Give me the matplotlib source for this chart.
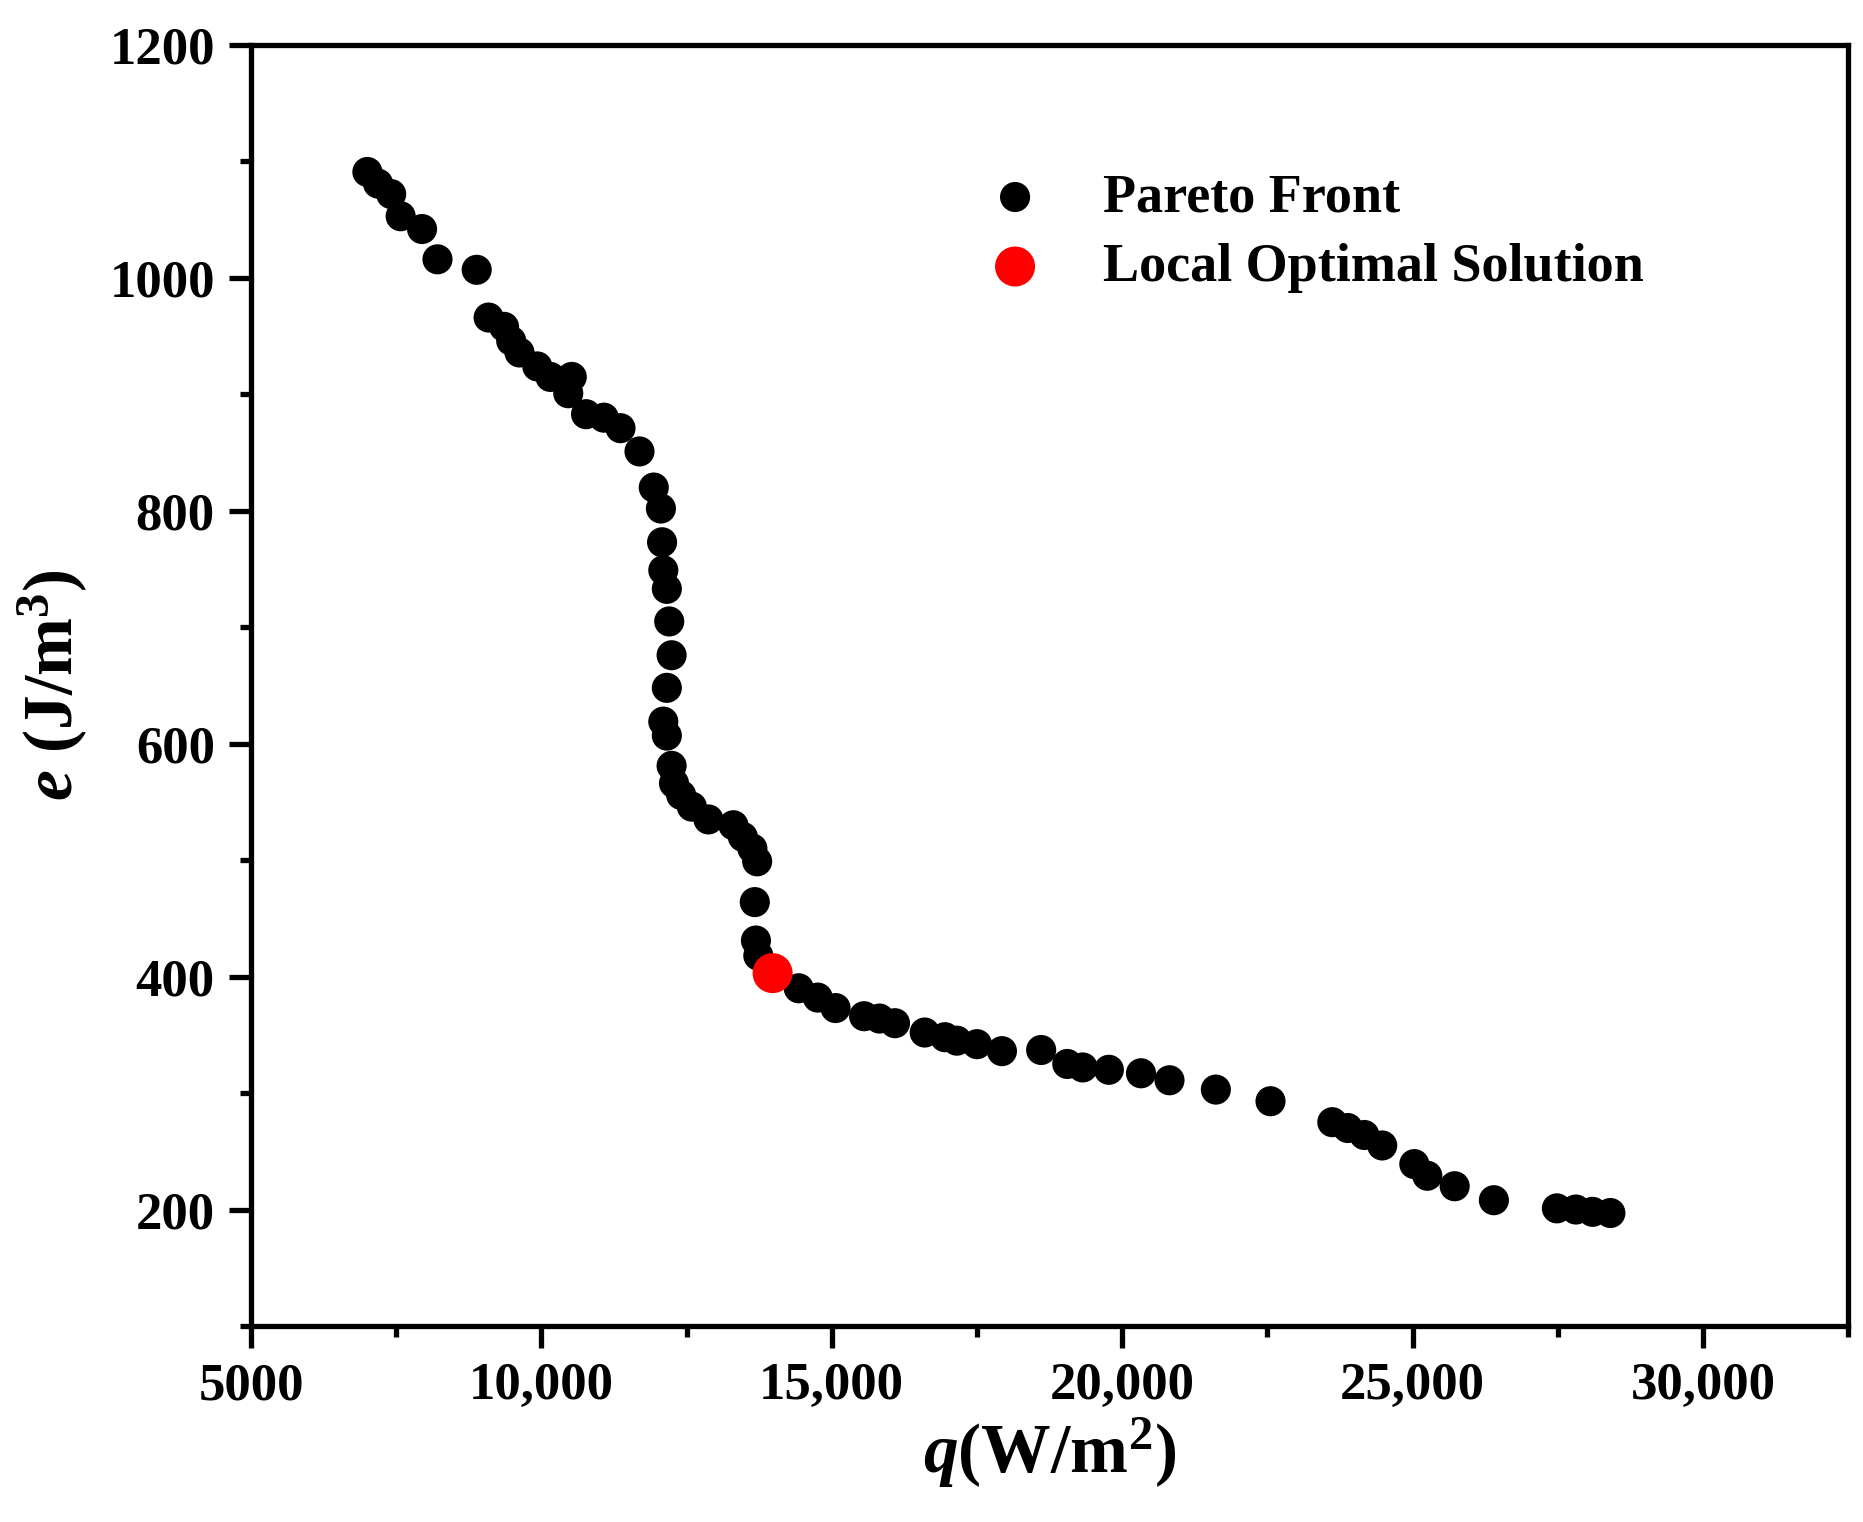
import matplotlib
matplotlib.use('Agg')
import matplotlib.pyplot as plt
from matplotlib.ticker import MultipleLocator, FixedLocator

plt.rcParams['font.family'] = 'Liberation Serif'
plt.rcParams['font.weight'] = 'bold'
plt.rcParams['axes.labelweight'] = 'bold'
plt.rcParams['mathtext.fontset'] = 'custom'
plt.rcParams['mathtext.rm'] = 'Liberation Serif:bold'
plt.rcParams['mathtext.it'] = 'Liberation Serif:italic:bold'
plt.rcParams['mathtext.bf'] = 'Liberation Serif:bold'

# pareto front
q_front = [7005, 7189, 7414, 7578, 7946, 8212, 8887, 9092, 9358, 9481,
           9624, 9931, 10156, 10524, 10463, 10770, 11077, 11363, 11690, 11936,
           12059, 12079, 12100, 12161, 12202, 12243, 12161, 12100, 12161, 12243,
           12284, 12407, 12591, 12877, 13307, 13470, 13634, 13716, 13675, 13695,
           13736, 14432, 14759, 15066, 15557, 15823, 16089, 16601, 16949, 17154,
           17501, 17931, 18606, 19056, 19322, 19772, 20325, 20816, 21614, 22555,
           23619, 23885, 24171, 24478, 25031, 25255, 25726, 26401, 27486, 27813,
           28100, 28407]
e_front = [1091, 1081, 1072, 1053, 1042, 1016, 1007, 966, 958, 946,
           936, 924, 915, 915, 901, 883, 880, 871, 851, 820,
           802, 773, 749, 733, 705, 676, 648, 619, 607, 581,
           566, 556, 546, 535, 530, 520, 510, 499, 464, 431,
           418, 390, 382, 373, 366, 364, 360, 352, 348, 345,
           342, 336, 337, 325, 322, 320, 317, 311, 303, 293,
           275, 270, 264, 255, 239, 229, 220, 208, 201, 200,
           198, 197]

q_opt = [13982]
e_opt = [403]

x_ticks = [5000, 10000, 15000, 20000, 25000, 30000]
x_labels = ['5000', '10,000', '15,000', '20,000', '25,000', '30,000']

fig = plt.figure(figsize=(18.63, 15.22), dpi=100)
ax = fig.add_axes([0.1347, 0.1288, 0.8573, 0.8416])

ax.scatter(q_front, e_front, s=470, c='black', edgecolors='none', label='Pareto Front', zorder=2)
ax.scatter(q_opt, e_opt, s=830, c='red', edgecolors='none', label='Local Optimal Solution', zorder=3)

ax.set_xlim(5000, 32500)
ax.set_ylim(100, 1200)
ax.xaxis.set_major_locator(FixedLocator(x_ticks))
ax.set_xticklabels(x_labels)
ax.xaxis.set_minor_locator(MultipleLocator(2500))
ax.set_yticks([200, 400, 600, 800, 1000, 1200])
ax.yaxis.set_minor_locator(MultipleLocator(100))

for sp in ax.spines.values():
    sp.set_linewidth(3.8)
ax.tick_params(which='major', direction='out', length=16, width=3.8, labelsize=38, pad=10)
ax.tick_params(which='minor', direction='out', length=8, width=3.8)
ax.tick_params(top=False, right=False, which='both')

ax.set_xlabel(r'$\mathit{q}$(W/m$^{2}$)', fontsize=50, fontweight='bold', labelpad=4)
ax.set_ylabel(r'$\mathit{e}$ (J/m$^{3}$)', fontsize=50, fontweight='bold', labelpad=14)

ax.legend(loc='upper left', bbox_to_anchor=(0.414, 0.938), frameon=False,
          prop={'size': 39, 'weight': 'bold'},
          handletextpad=0.63, labelspacing=0.36, scatterpoints=1)

plt.savefig('out.png', dpi=100)
plt.close()
